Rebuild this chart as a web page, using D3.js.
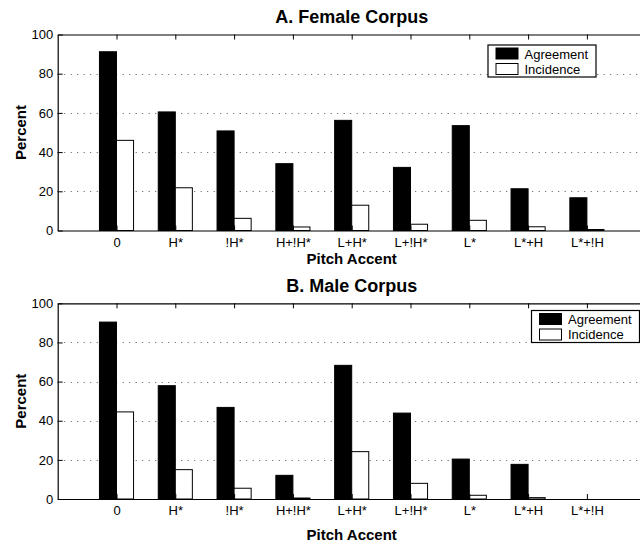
<!DOCTYPE html>
<html>
<head>
<meta charset="utf-8">
<script src="https://cdn.jsdelivr.net/npm/d3@7"></script>
<style>
  body { margin: 0; background: #fff; }
  svg text { font-family: "Liberation Sans", Arial, Helvetica, sans-serif; fill: #000; }
</style>
</head>
<body>
<div id="chart"></div>
<script>
// pitch accent categories, same for both corpora
const categories = ["0", "H*", "!H*", "H+!H*", "L+H*", "L+!H*", "L*", "L*+H", "L*+!H"];
const seriesNames = ["Agreement", "Incidence"];
const yTicks = [0, 20, 40, 60, 80, 100];

// A. Female corpus (percent)
const femaleAgreement = [91.2, 60.5, 50.8, 34.1, 56.2, 32.2, 53.5, 21.3, 16.7];
const femaleIncidence = [46.0, 21.8, 6.2, 1.8, 12.9, 3.2, 5.2, 1.9, 0.5];

// B. Male corpus (percent)
const maleAgreement = [90.4, 57.9, 46.8, 12.1, 68.3, 43.9, 20.4, 17.7, 0];
const maleIncidence = [44.5, 15.0, 5.5, 0.5, 24.2, 8.0, 1.9, 0.7, 0];

const W = 640, H = 542;
const left = 57.7, right = 645.7;   // plot runs past the right edge of the picture

const svg = d3.select("#chart").append("svg")
    .attr("width", W)
    .attr("height", H);

const x = d3.scaleLinear().domain([0, 10]).range([left, right]);
const barW = 0.29;

const drawPanel = (p) => {
    const y = d3.scaleLinear().domain([0, 100]).range([p.bottom, p.top]);
    const g = svg.append("g");

    // dotted grid
    g.append("g")
        .selectAll("line")
        .data(yTicks.filter(d => d > 0 && d < 100))
        .join("line")
        .attr("x1", left).attr("x2", right)
        .attr("y1", d => Math.round(y(d)) + 0.5)
        .attr("y2", d => Math.round(y(d)) + 0.5)
        .style("stroke", "#555")
        .style("stroke-dasharray", "1, 5.5");

    // bars
    const series = [p.agree, p.incid];
    series.forEach((vals, s) => {
        g.append("g")
            .selectAll("rect")
            .data(vals)
            .join("rect")
            .attr("x", (d, i) => x(i + 1 - barW + s * barW))
            .attr("width", x(barW) - x(0))
            .attr("y", d => y(d))
            .attr("height", d => y(0) - y(d))
            .attr("fill", s === 0 ? "#000" : "#fff")
            .attr("stroke", "#000")
            .attr("stroke-width", 1);
    });

    // axes, ticks pointing inward
    const xAxis = g.append("g")
        .attr("transform", "translate(0," + p.bottom + ")")
        .call(d3.axisBottom(x)
            .tickValues(d3.range(1, 10))
            .tickFormat(i => categories[i - 1])
            .tickSizeInner(-5).tickSizeOuter(0).tickPadding(7));
    xAxis.selectAll("text").style("font-size", "13px");

    g.append("g")
        .attr("transform", "translate(0," + p.top + ")")
        .call(d3.axisTop(x)
            .tickValues(d3.range(1, 10))
            .tickFormat("")
            .tickSizeInner(-5).tickSizeOuter(0));

    const yAxis = g.append("g")
        .attr("transform", "translate(" + left + ",0)")
        .call(d3.axisLeft(y)
            .tickValues(yTicks)
            .tickSizeInner(-5).tickSizeOuter(0).tickPadding(4.5));
    yAxis.selectAll("text").style("font-size", "13px");

    g.selectAll(".domain").attr("stroke", "#000").attr("stroke-width", 1.2);

    // titles
    g.append("text")
        .attr("x", (left + right) / 2).attr("y", p.titleY)
        .attr("text-anchor", "middle")
        .style("font-size", "18px").style("font-weight", "bold")
        .text(p.title);

    g.append("text")
        .attr("x", (left + right) / 2).attr("y", p.xLabelY)
        .attr("text-anchor", "middle")
        .style("font-size", "15px").style("font-weight", "bold")
        .text("Pitch Accent");

    g.append("text")
        .attr("transform", "translate(25.5," + (p.top + p.bottom) / 2 + ") rotate(-90)")
        .attr("text-anchor", "middle")
        .style("font-size", "15px").style("font-weight", "bold")
        .text("Percent");

    // legend
    const lg = g.append("g").attr("transform", "translate(" + p.legX + "," + p.legY + ")");
    lg.append("rect")
        .attr("width", 108).attr("height", 32)
        .attr("fill", "#fff").attr("stroke", "#000").attr("stroke-width", 1.2);
    seriesNames.forEach((name, s) => {
        lg.append("rect")
            .attr("x", 8).attr("y", 3 + s * 15.5)
            .attr("width", 22).attr("height", 11)
            .attr("fill", s === 0 ? "#000" : "#fff")
            .attr("stroke", "#000");
        lg.append("text")
            .attr("x", 36.5).attr("y", 13.5 + s * 15)
            .style("font-size", "13px")
            .text(name);
    });
};

drawPanel({
    title: "A. Female Corpus", agree: femaleAgreement, incid: femaleIncidence,
    top: 34.5, bottom: 230.5, titleY: 23.3, xLabelY: 263.5, legX: 488, legY: 45
});
drawPanel({
    title: "B. Male Corpus", agree: maleAgreement, incid: maleIncidence,
    top: 303.3, bottom: 499, titleY: 291.7, xLabelY: 539.5, legX: 531.5, legY: 310.5
});
</script>
</body>
</html>
